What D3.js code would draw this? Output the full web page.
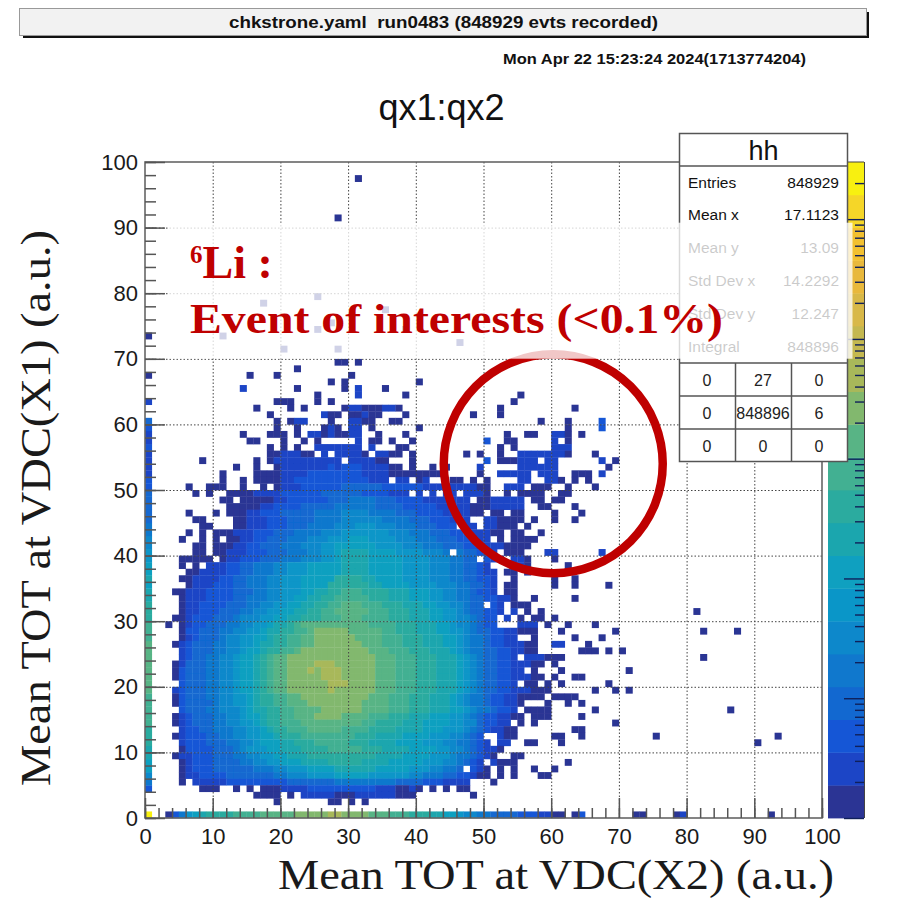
<!DOCTYPE html>
<html>
<head>
<meta charset="utf-8">
<title>qx1:qx2</title>
<script src="https://cdn.jsdelivr.net/npm/d3@7"></script>
<style>
  body { margin: 0; background: #fff; }
  svg { display: block; }
  .sans { font-family: "Liberation Sans", sans-serif; }
  .serif { font-family: "Liberation Serif", serif; }
</style>
</head>
<body>
<svg id="mySvg" width="902" height="905"></svg>
<script>
// 20 contour colours of the z axis, bottom to top
const palette = [
  "#2b3494", "#1c45c6", "#1556d6", "#1268d0", "#1078cd", "#0d88cb", "#0a96c8",
  "#0fa0c0", "#1ba6ae", "#2bab9f", "#42b092", "#58b485", "#82b86e", "#a8b85a",
  "#c4b850", "#d8b848", "#e8b83c", "#f2c030", "#f5d628", "#f8f010"
];

// first column of the histogram, qx2 bin 0, from qx1 bin 4 upwards
const firstColumn = "2457788999aaaaabbbbbbbbaaa9998878776655443333322111121123";

// one entry per qx1 bin: "first qx2 bin:contour levels" ('.' = empty bin)
const binRows = [
  [97, "31:0"],
  [91, "28:0"],
  [79, "25:0"],
  [78, "17:0"],
  [77, "35:0"],
  [75, "27:0"],
  [74, "25:0 38:0"],
  [73, "0:0 11:0"],
  [72, "46:0"],
  [71, "20:0 28:0"],
  [69, "28:00 31:0"],
  [68, "22:0"],
  [67, "0:0 15:0 19:0 30:0"],
  [66, "27:0 29:0 40:0"],
  [65, "14:1 22:0 29:0 31:1 35:0"],
  [64, "25:0 31:1 38:0 55:0"],
  [63, "0:1 19:000 25:0 27:0 54:0"],
  [62, "16:0 21:0 23:0 29:011000110 52:0 63:0"],
  [61, "18:0 26:100 30:00100 38:0 48:0 52:0"],
  [60, "19:0 21:011 27:0 30:1100 36:00 58:0 62:0 67:2"],
  [59, "19:0 22:0 26:010 30:11 33:0 40:0 62:0 67:2"],
  [58, "14:0 18:000 22:0 24:110100 30:11 34:0 38:0 53:0 56:00 60:110 64:0"],
  [57, "15:00 20:0 23:0 25:0 31:1 33:00 36:0 39:0 50:2 53:00 60:1.0"],
  [56, "18:0 20:0 22:0 25:1111111 33:1 37:00 52:0 54:0 60:111"],
  [55, "18:0011100 26:1 28:11110 34:110 37:0 39:0 47:0 49:0 52:0 55:11111110 66:0"],
  [54, "8:0 16:0 18:01111111111 30:111100 39:0 50:2 52:000 55:111.11 67:1 69:0"],
  [53, "13:0 16:0 19:0111111121222111100 39:0 42:0 44:0 49:1 55:111111 68:0"],
  [52, "11:0 16:0000 20:111122222222111100 38:000000 49:0 52:11111 58:111 63:00 65:0 67:1"],
  [51, "11:0 14:0 16:000 19:01122222222222111 37:11 40:01 45:00 48:0 50:0 55:11 59:11 61:0 63:0 65:0"],
  [50, "6:0 9:00 11:0 14:0 17:0 19:01112222223333332222221111111100 53:111 57:000 62:0 66:0"],
  [49, "7:0 9:0 12:000011112222223333332222111 40:1 42:1 44:11 47:111 50:0 53:0 55:00 57:00 61:00"],
  [48, "11:00 14:0000011222222333444433322221111111.0011111 57:00 60:00"],
  [47, "12:00000112222333334444443333222221111100011111 58:00 63:0"],
  [46, "6:0 10:0 12:00011222333334444555544443332222111100.00.00 60:0 64:0"],
  [45, "7:00 13:00111222333344445555554444333222111..110000 57:0 60:0 63:0"],
  [44, "8:00 13:001112223334444555666555444333222.11.11000 56:0"],
  [43, "6:0 8:0 10:0001112223334444555666666655544433322211100 54:00 58:0"],
  [42, "5:0 8:0 10:0 12:001122333444555666777666655544433322111.0.0000"],
  [41, "7:00 10:00011223334445556677777766665554443332211110000"],
  [40, "7:00 10:00111222333444556678888777766665554.433221.000 59:11 67:1"],
  [39, "5:00000 11:01122233344455566788887777766665554433.211.110 60:0"],
  [38, "5:0 7:0 9:111223344455666777778888777776666555443321...110 62:0"],
  [37, "6:0011112233444556667777788887777766665554433211 53:00 56:0"],
  [36, "5:00111122334445566677777999988777766665554433221 54:0 60:0 63:0"],
  [35, "6:0111222334445566677779999998877776666555443321 53:00 60:0 63:0 68:0"],
  [34, "4:0011122223334455666778899aaa99998887776655443221 53:00"],
  [33, "5:01112222334445566778899aaaaa9998887776655443322110 57:0 63:0"],
  [32, "5:0112222333445566778899aabbbaaa999888776655433.21.000"],
  [31, "5:011222333445566778899aabbbbbaaa99988877665433221.1.0.0 81:0"],
  [30, "4:0012223334555667788999aaabbbaaaa9998887766554322.1.0.00 60:0"],
  [29, "3:0 5:01223334455667889abbbbbbbbbbaaaa999888776554322 55:111 59:0 62:0 66:0"],
  [28, "5:02233344556678899aabcccccbbbbbaa999888776654332211000 61:0 69:0 82:0 87:0"],
  [27, "5:0123334556677899aabbccccccbbbbaaa99988877654432211..0 63:0 67:0"],
  [26, "4:01233344556678899aabbcccccccbbbaaa99988877654432211100 60:11 65:0"],
  [25, "5:123334455677899aabccccccccccbbbaaa9998887654433221100 64:000 68:0 70:0"],
  [24, "5:1233445567789abbcccccccccccccbbbaaa999888765433221 56:111000 82:0"],
  [23, "4:01333445567789abbccccdddccccccbbbaaa9998887654332211100 60:0"],
  [22, "4:02333445567789abbcccdcdddcccccbbbaaa9998887654332211.0 61:0 71:0"],
  [21, "4:02333445567789abbcccccdddcccccbbbaaa9998887654332211100 60:0 63:00"],
  [20, "5:2333445567789abbccccccdddccccbbbaaa999888765433221.00 59:0 61:0 68:0"],
  [19, "4:12333445567789abbccccccdccccccbbbaaa9998887654332211100 59:0 66:0 69:0 71:0"],
  [18, "4:023334455667899aabbccccccccccbbbaaa99988876544322110000 60:0000"],
  [17, "4:023333455667899aabbbccccccccbbbbaaa99988876544322110 59:0 62:0 64:0"],
  [16, "5:233344555678899aabbbbccccccbbbbaaa9998887765443221.0000 66:0 86:0"],
  [15, "4:0123334455677899aabbbccccbbbbaaa99988877766543221100 57:0 58:00 64:0"],
  [14, "4:0123334455667899aaabbbbbbbbbaa99998887777665532211.0.0 69:0"],
  [13, "5:1223344455667899aaabbbbbaaaa9999888877766654321100 63:00"],
  [12, "4:0122233445566778999aaaaaaaa9998888777766655432..100 60:00 64:0 75:0 93:0"],
  [11, "5:12223334455677788999aaaaa999888877776665544321.11..00 61:0 90:0"],
  [10, "5:0222233345666778889999aaaaa999888877776655432110"],
  [9, "4:01122233344556677888999999999988887777666544321 0..00"],
  [8, "5:012223333445566777888899999888877777666554321.1000 62:0"],
  [7, "5:012223333334445566677778888887777766655443.210 52:0 54:0 57:0 60:0"],
  [6, "5:0112222333333344555666677777666666554443322100 52:0 54:0 58:00"],
  [5, "5:0.11111222222222333333344444444433332221111 51:0"],
  [4, "8:000 13:0 15:0 17:000111122222222221110010 42:0 44:0 46:00"],
  [3, "16:0000 21:0 23:11111000111111000 48:0"],
  [2, "19:0 27:00 30:0 32:0"],
  [0, "0:j 3:0246789999aaaabbbbbcccccddccccbbbaaa99988776554433332221100 63:02 72:00 78:01 92:0"]
];

const axisTicks = d3.range(0, 101, 10);
const axisMinorTicks = d3.range(0, 101, 2);
const zDecades = [1, 10, 100, 1000, 10000, 100000];
const zMinorTicks = [
  2, 3, 4, 5, 6, 7, 8, 9, 20, 30, 40, 50, 60, 70, 80, 90, 200, 300, 400, 500,
  600, 700, 800, 900, 2000, 3000, 4000, 5000, 6000, 7000, 8000, 9000, 20000,
  30000, 40000, 50000, 60000, 70000, 80000, 90000, 200000
];

const statLabels = ["Entries", "Mean x", "Mean y", "Std Dev x", "Std Dev y", "Integral"];
const statValues = ["848929", "17.1123", "13.09", "14.2292", "12.247", "848896"];
const statTable = [
  ["0", "27", "0"],
  ["0", "848896", "6"],
  ["0", "0", "0"]
];

const svg = d3.select("#mySvg");
const plot = { left: 145, right: 822, top: 162, bottom: 818 };

const x = d3.scaleLinear().domain([0, 100]).range([plot.left, plot.right]);
const y = d3.scaleLinear().domain([0, 100]).range([plot.bottom, plot.top]);
const z = d3.scaleLog().domain([1, 3e5]).range([plot.bottom, plot.top]);
const color = d3.scaleOrdinal(d3.range(20), palette);

const bins = [];
firstColumn.split("").forEach((c, i) => {
  bins.push({ x: 0, y: i + 4, level: parseInt(c, 36) });
});
binRows.forEach(([row, text]) => {
  text.replace(/(\d) (\d\.)/, "$1$2").split(" ").forEach((seg) => {
    const [start, levels] = seg.split(":");
    levels.split("").forEach((c, i) => {
      if (c !== ".") bins.push({ x: +start + i, y: row, level: parseInt(c, 36) });
    });
  });
});

const defs = svg.append("defs");
defs.append("filter").attr("id", "soft")
  .attr("x", "-2%").attr("y", "-2%").attr("width", "104%").attr("height", "104%")
  .append("feGaussianBlur").attr("stdDeviation", 0.6);

// top banner
svg.append("rect").attr("x", 23).attr("y", 12).attr("width", 846).attr("height", 26).attr("fill", "#111");
svg.append("rect").attr("x", 19.5).attr("y", 8.5).attr("width", 847).attr("height", 27)
  .attr("fill", "#f2f2f2").attr("stroke", "#999");
svg.append("text").attr("class", "sans").attr("x", 229).attr("y", 28)
  .attr("font-size", 17).attr("font-weight", "bold").attr("fill", "#111")
  .attr("textLength", 429).attr("lengthAdjust", "spacingAndGlyphs")
  .attr("xml:space", "preserve").text("chkstrone.yaml  run0483 (848929 evts recorded)");
svg.append("text").attr("class", "sans").attr("x", 503).attr("y", 64)
  .attr("font-size", 15).attr("font-weight", "bold").attr("fill", "#111")
  .attr("textLength", 303).attr("lengthAdjust", "spacingAndGlyphs")
  .text("Mon Apr 22 15:23:24 2024(1713774204)");
svg.append("text").attr("class", "sans").attr("x", 441.5).attr("y", 120).attr("text-anchor", "middle")
  .attr("font-size", 36).attr("fill", "#111").text("qx1:qx2");

// histogram cells
svg.append("g").attr("filter", "url(#soft)")
  .selectAll("rect")
  .data(bins)
  .enter()
  .append("rect")
  .attr("x", (d) => x(d.x))
  .attr("y", (d) => y(d.y + 1))
  .attr("width", x(1) - x(0) + 0.3)
  .attr("height", y(0) - y(1) + 0.3)
  .attr("fill", (d) => color(d.level));

// dotted grid
const grid = svg.append("g").attr("class", "grid");
grid.append("g").attr("transform", `translate(0,${plot.bottom})`)
  .call(d3.axisBottom(x).tickValues(axisTicks.slice(1, -1)).tickSize(-(plot.bottom - plot.top)).tickFormat(""));
grid.append("g").attr("transform", `translate(${plot.left},0)`)
  .call(d3.axisLeft(y).tickValues(axisTicks.slice(1, -1)).tickSize(-(plot.right - plot.left)).tickFormat(""));
grid.selectAll(".domain").remove();
grid.selectAll("line").attr("stroke", "#444").attr("stroke-width", 1).attr("stroke-dasharray", "1.5,2");

// frame and axes, ticks point inwards
svg.append("rect").attr("x", plot.left).attr("y", plot.top)
  .attr("width", plot.right - plot.left).attr("height", plot.bottom - plot.top)
  .attr("fill", "none").attr("stroke", "#666").attr("stroke-width", 1.6);

const styleAxis = (g) => {
  g.select(".domain").remove();
  g.selectAll("line").attr("stroke", "#555").attr("stroke-width", 1.5);
  g.selectAll("text").attr("class", "sans").attr("font-size", 22).attr("fill", "#1a1a1a");
};
svg.append("g").attr("transform", `translate(0,${plot.bottom})`)
  .call(d3.axisBottom(x).tickValues(axisMinorTicks).tickSize(-10).tickFormat("")).call(styleAxis);
svg.append("g").attr("transform", `translate(0,${plot.bottom})`)
  .call(d3.axisBottom(x).tickValues(axisTicks).tickSize(-20).tickPadding(10)).call(styleAxis);
svg.append("g").attr("transform", `translate(${plot.left},0)`)
  .call(d3.axisLeft(y).tickValues(axisMinorTicks).tickSize(-11).tickFormat("")).call(styleAxis);
svg.append("g").attr("transform", `translate(${plot.left},0)`)
  .call(d3.axisLeft(y).tickValues(axisTicks).tickSize(-20).tickPadding(7)).call(styleAxis);

// colour bar
const barX = 828;
const barW = 36;
svg.append("g").selectAll("rect")
  .data(palette)
  .enter()
  .append("rect")
  .attr("x", barX)
  .attr("y", (d, i) => plot.bottom - ((i + 1) * (plot.bottom - plot.top)) / palette.length)
  .attr("width", barW)
  .attr("height", (plot.bottom - plot.top) / palette.length + 0.4)
  .attr("fill", (d) => d);
svg.append("rect").attr("x", barX + barW).attr("y", plot.top).attr("width", 1).attr("height", plot.bottom - plot.top).attr("fill", "#444");
svg.append("rect").attr("x", barX).attr("y", plot.top - 0.5).attr("width", barW).attr("height", 1).attr("fill", "#444");
const styleBar = (g) => {
  g.select(".domain").remove();
  g.selectAll("line").attr("stroke", "#10205a").attr("stroke-width", 1.4);
};
svg.append("g").attr("transform", `translate(${barX + barW},0)`)
  .call(d3.axisRight(z).tickValues(zMinorTicks).tickSize(-9).tickFormat("")).call(styleBar);
svg.append("g").attr("transform", `translate(${barX + barW},0)`)
  .call(d3.axisRight(z).tickValues(zDecades).tickSize(-20).tickFormat("")).call(styleBar);

// stats box
const statX = 679.5;
const statW = 168;
const stats = svg.append("g").attr("class", "sans");
stats.append("rect").attr("x", statX).attr("y", 133.5).attr("width", statW).attr("height", 328)
  .attr("fill", "#fff").attr("stroke", "#555").attr("stroke-width", 1.5);
stats.append("text").attr("x", statX + statW / 2).attr("y", 160).attr("text-anchor", "middle")
  .attr("font-size", 27).attr("fill", "#111").text("hh");
[166, 363, 396, 429].forEach((ly) => {
  stats.append("line").attr("x1", statX).attr("x2", statX + statW).attr("y1", ly).attr("y2", ly)
    .attr("stroke", "#555").attr("stroke-width", 1.5);
});
[735.5, 791.5].forEach((lx) => {
  stats.append("line").attr("x1", lx).attr("x2", lx).attr("y1", 363).attr("y2", 461)
    .attr("stroke", "#555").attr("stroke-width", 1.5);
});
statLabels.forEach((label, i) => {
  const ty = 187.5 + i * 32.8;
  stats.append("text").attr("x", 688).attr("y", ty).attr("font-size", 15.5).attr("fill", "#111").text(label);
  stats.append("text").attr("x", 839).attr("y", ty).attr("text-anchor", "end").attr("font-size", 15.5).attr("fill", "#111").text(statValues[i]);
});
statTable.forEach((row, r) => {
  row.forEach((val, c) => {
    stats.append("text")
      .attr("x", [707, 763, 819][c])
      .attr("y", 385.5 + r * 33)
      .attr("text-anchor", "middle")
      .attr("font-size", 16)
      .attr("fill", "#222")
      .text(val);
  });
});

// annotation ring around the 6Li events
svg.append("circle")
  .attr("cx", x(60.3))
  .attr("cy", y(54))
  .attr("r", 109.5)
  .attr("fill", "none")
  .attr("stroke", "#bf0000")
  .attr("stroke-width", 8.5);

// translucent white box pasted behind the red label
svg.append("rect").attr("x", 168).attr("y", 222.7).attr("width", 684.5).attr("height", 136)
  .attr("fill", "#fff").attr("fill-opacity", 0.78);

const label = svg.append("g").attr("class", "serif").attr("fill", "#bf0000").attr("font-weight", "bold");
const liLine = label.append("text").attr("x", 190).attr("y", 278).attr("font-size", 46);
liLine.append("tspan").attr("font-size", 25).attr("dy", -15).text("6");
liLine.append("tspan").attr("dy", 15).text("Li :");
label.append("text").attr("x", 190).attr("y", 333).attr("font-size", 43)
  .attr("textLength", 533).attr("lengthAdjust", "spacingAndGlyphs").text("Event of interests (<0.1%)");

// axis titles
svg.append("text").attr("class", "serif").attr("x", 278).attr("y", 889)
  .attr("font-size", 43).attr("fill", "#1a1a1a").attr("textLength", 556).attr("lengthAdjust", "spacingAndGlyphs")
  .text("Mean TOT at VDC(X2) (a.u.)");
svg.append("text").attr("class", "serif")
  .attr("transform", "translate(50,786) rotate(-90)")
  .attr("font-size", 43).attr("fill", "#1a1a1a").attr("textLength", 556).attr("lengthAdjust", "spacingAndGlyphs")
  .text("Mean TOT at VDC(X1) (a.u.)");
</script>
</body>
</html>
